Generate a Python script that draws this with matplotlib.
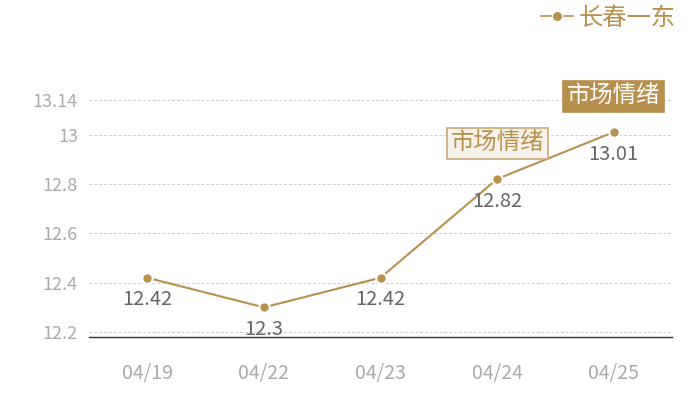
import matplotlib
matplotlib.use("Agg")
import matplotlib.pyplot as plt
from matplotlib.lines import Line2D

plt.rcParams['font.family'] = ['Noto Sans CJK SC', 'DejaVu Sans']

categories = ["04/19", "04/22", "04/23", "04/24", "04/25"]
values = [12.42, 12.3, 12.42, 12.82, 13.01]
value_labels = ["12.42", "12.3", "12.42", "12.82", "13.01"]
yticks = [12.2, 12.4, 12.6, 12.8, 13.0, 13.14]
ytick_labels = ["12.2", "12.4", "12.6", "12.8", "13", "13.14"]
series_name = "长春一东"
mark_text = "市场情绪"

gold = "#b8904e"

fig = plt.figure(figsize=(7, 4), dpi=100)
ax = fig.add_axes([89/700, 63/400, (672-89)/700, (337-100)/400])

x = list(range(len(categories)))
ax.plot(x, values, color=gold, lw=1.5, marker='o', ms=7.5,
        markerfacecolor=gold, markeredgecolor='white', markeredgewidth=1.5,
        zorder=3, clip_on=False)

for xi, v, lab in zip(x, values, value_labels):
    ax.annotate(lab, (xi, v), xytext=(0, -16), textcoords='offset points',
                ha='center', va='center', fontsize=14.5, color='#666666', zorder=4)

ax.set_xlim(-0.5, len(categories) - 0.5)
ax.set_ylim(12.18, 13.14)
ax.set_xticks(x)
ax.set_xticklabels(categories)
ax.set_yticks(yticks)
ax.set_yticklabels(ytick_labels)
ax.tick_params(axis='both', length=0, colors='#aaaaaa')
ax.tick_params(axis='x', pad=19, labelsize=14)
ax.tick_params(axis='y', pad=8, labelsize=13)
ax.grid(axis='y', color='#cccccc', ls=(0, (3, 2)), lw=0.7)
ax.set_axisbelow(True)
for s in ['top', 'right', 'left']:
    ax.spines[s].set_visible(False)
ax.spines['bottom'].set_color('#333333')
ax.spines['bottom'].set_linewidth(1.0)

# market sentiment markers
ax.annotate(mark_text, (x[3], values[3]), xytext=(0, 25.5), textcoords='offset points',
            ha='center', va='center', fontsize=16.8, color=gold, zorder=5,
            bbox=dict(boxstyle='square,pad=0.16', fc='#f6f1ea', ec='#c9a975', lw=1.2))
ax.annotate(mark_text, (x[4], values[4]), xytext=(0, 25.5), textcoords='offset points',
            ha='center', va='center', fontsize=16.8, color='white', zorder=5,
            bbox=dict(boxstyle='square,pad=0.16', fc=gold, ec=gold, lw=1.2))

handle = Line2D([], [], color=gold, lw=1.2, marker='o', ms=7.5,
                markerfacecolor=gold, markeredgecolor='white', markeredgewidth=1)
leg = fig.legend([handle], [series_name], loc='upper right', bbox_to_anchor=(0.997, 1.043),
                 frameon=False, fontsize=17.5, handlelength=1.3, handletextpad=0.25,
                 labelcolor=gold)

fig.savefig("out.png", dpi=100)
